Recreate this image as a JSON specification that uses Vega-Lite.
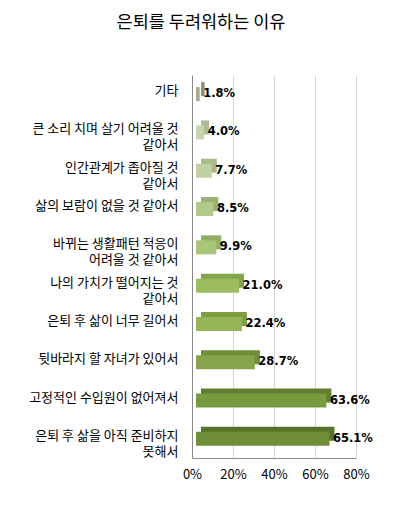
{
  "$schema": "https://vega.github.io/schema/vega-lite/v6.json",
  "title": {
    "text": "은퇴를 두려워하는 이유",
    "font": "Noto Sans CJK KR",
    "fontSize": 17.5,
    "fontWeight": "normal",
    "color": "#000000",
    "anchor": "middle",
    "dx": -73,
    "offset": 44
  },
  "width": 164,
  "height": 383,
  "autosize": {"type": "none"},
  "padding": {"left": 192, "top": 75, "right": 46, "bottom": 52},
  "background": "#ffffff",
  "data": {
    "values": [
      {"reason": "기타", "pct": 0.018},
      {"reason": "큰 소리 치며 살기 어려울 것|같아서\u00a0\u00a0\u00a0\u00a0\u00a0\u00a0\u00a0\u00a0\u00a0\u00a0\u00a0\u00a0\u00a0\u00a0\u00a0\u00a0\u00a0\u00a0\u00a0", "pct": 0.040},
      {"reason": "인간관계가 좁아질 것|같아서\u00a0\u00a0\u00a0\u00a0\u00a0\u00a0\u00a0\u00a0\u00a0\u00a0\u00a0\u00a0", "pct": 0.077},
      {"reason": "삶의 보람이 없을 것 같아서", "pct": 0.085},
      {"reason": "바뀌는 생활패턴 적응이|어려울 것 같아서\u00a0\u00a0\u00a0\u00a0\u00a0", "pct": 0.099},
      {"reason": "나의 가치가 떨어지는 것|같아서\u00a0\u00a0\u00a0\u00a0\u00a0\u00a0\u00a0\u00a0\u00a0\u00a0\u00a0\u00a0\u00a0\u00a0", "pct": 0.210},
      {"reason": "은퇴 후 삶이 너무 길어서", "pct": 0.224},
      {"reason": "뒷바라지 할 자녀가 있어서", "pct": 0.287},
      {"reason": "고정적인 수입원이 없어져서", "pct": 0.636},
      {"reason": "은퇴 후 삶을 아직 준비하지|못해서\u00a0\u00a0\u00a0\u00a0\u00a0\u00a0\u00a0\u00a0\u00a0\u00a0\u00a0\u00a0\u00a0\u00a0\u00a0\u00a0", "pct": 0.651}
    ]
  },
  "encoding": {
    "y": {
      "field": "reason",
      "type": "nominal",
      "sort": null,
      "axis": {
        "title": null,
        "labelExpr": "split(datum.label, '|')",
        "labelFont": "Noto Sans CJK KR",
        "labelFontSize": 13,
        "labelColor": "#000000",
        "labelBaseline": "top",
        "labelOffset": -9,
        "labelLineHeight": 16,
        "labelPadding": 14,
        "labelLimit": 220,
        "ticks": false,
        "domainColor": "#8c8c8c",
        "grid": false
      }
    },
    "x": {
      "field": "pct",
      "type": "quantitative",
      "scale": {"domain": [0, 0.8]},
      "axis": {
        "title": null,
        "format": ".0%",
        "values": [0, 0.2, 0.4, 0.6, 0.8],
        "labelFont": "Noto Sans CJK KR",
        "labelFontSize": 13,
        "labelColor": "#000000",
        "labelFlush": false,
        "labelPadding": 10,
        "ticks": false,
        "domainColor": "#8c8c8c",
        "gridColor": "#d4d4d4"
      }
    }
  },
  "layer": [
    {
      "mark": {"type": "bar", "size": 14, "xOffset": 9, "yOffset": -5},
      "encoding": {
        "color": {
          "field": "reason",
          "type": "nominal",
          "sort": null,
          "legend": null,
          "scale": {
            "range": ["#8c9476", "#aebb96", "#a8ba8a", "#9ab274", "#8fae62", "#84a44b", "#7d9d43", "#6f8d39", "#617f30", "#57752a"]
          }
        }
      }
    },
    {
      "mark": {"type": "bar", "size": 14, "xOffset": 4},
      "encoding": {
        "fill": {
          "field": "reason",
          "type": "nominal",
          "sort": null,
          "legend": null,
          "scale": {
            "range": ["#a4ad8c", "#c6d3ad", "#c0d1a2", "#b3c98c", "#a8c57a", "#9cbc60", "#95b556", "#86a449", "#789a3f", "#6e8f37"]
          }
        }
      }
    },
    {
      "mark": {
        "type": "text",
        "align": "left",
        "baseline": "middle",
        "dx": 7.5,
        "font": "DejaVu Sans",
        "fontWeight": "bold",
        "fontSize": 11.5,
        "color": "#000000"
      },
      "encoding": {
        "text": {"field": "pct", "type": "quantitative", "format": ".1%"}
      }
    }
  ],
  "config": {"view": {"stroke": null}}
}
